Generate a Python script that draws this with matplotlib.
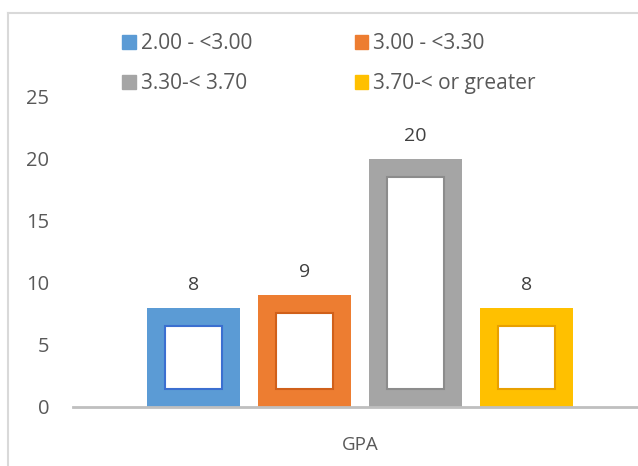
#!/usr/bin/env python3

import matplotlib
matplotlib.use("Agg")
import matplotlib.pyplot as plt
import matplotlib.patches as patches
from matplotlib.lines import Line2D

labels = ["2.00 - <3.00", "3.00 - <3.30", "3.30-< 3.70", "3.70-< or greater"]
values = [8, 9, 20, 8]
colors = ["#5B9BD5", "#ED7D31", "#A5A5A5", "#FFC000"]
edges = ["#3b6fd0", "#d0601a", "#8c8c8c", "#e8a000"]
category = "GPA"
yticks = [0, 5, 10, 15, 20, 25]


def main():
    plt.rcParams["font.family"] = ["Open Sans", "DejaVu Sans"]
    txt = "#595959"
    W, H, dpi = 638, 466, 100
    fig = plt.figure(figsize=(W / dpi, H / dpi), dpi=dpi)
    left, right, bottom, top = 73, 647, 407, 97
    ax = fig.add_axes([left / W, 1 - bottom / H, (right - left) / W, (bottom - top) / H])
    ax_w = right - left
    ax_h = bottom - top

    ax.set_xlim(-0.5, 0.5)
    ax.set_ylim(0, 25)
    step = 111 / ax_w
    width = 93 / ax_w
    n = len(values)
    xs = [(i - (n - 1) / 2) * step for i in range(n)]

    inset_px = 18
    dx = inset_px / ax_w
    dy = inset_px / ax_h * 25

    for x, v, c, e in zip(xs, values, colors, edges):
        ax.bar(x, v, width=width, color=c, zorder=2)
        ax.bar(x, v - 2 * dy, bottom=dy, width=width - 2 * dx, color="white",
               edgecolor=e, linewidth=1.5, zorder=3)
        ax.text(x, v + 1.15, str(v), ha="center", va="bottom", fontsize=14, color="#404040")

    ax.set_yticks(yticks)
    ax.set_yticklabels([str(t) for t in yticks], fontsize=14.5, color=txt)
    ax.tick_params(axis="y", length=0, pad=17)
    ax.set_xticks([0])
    ax.set_xticklabels([category], fontsize=13.5, color=txt)
    ax.tick_params(axis="x", length=0, pad=21)
    for s in ["top", "right", "left"]:
        ax.spines[s].set_visible(False)
    ax.spines["bottom"].set_color("#bfbfbf")
    ax.spines["bottom"].set_linewidth(2)
    ax.spines["bottom"].set_zorder(4)

    # legend fills row by row in the reference: reorder for column-major fill
    order = [0, 2, 1, 3]
    handles = [patches.Patch(color=colors[i]) for i in order]
    ax.legend(handles, [labels[i] for i in order], ncol=2, frameon=False, fontsize=15,
              labelcolor=txt, handlelength=0.65, handleheight=0.65, handletextpad=0.25,
              columnspacing=4.9, labelspacing=0.9,
              loc="upper left", bbox_to_anchor=(114 / W, 1 - 25 / H),
              bbox_transform=fig.transFigure, borderaxespad=0)

    # outer chart frame (cropped on right and bottom)
    fig.add_artist(Line2D([8 / W, 8 / W], [0, 1 - 13 / H], transform=fig.transFigure,
                          color="#d9d9d9", lw=1.5))
    fig.add_artist(Line2D([8 / W, 1], [1 - 13 / H, 1 - 13 / H], transform=fig.transFigure,
                          color="#d9d9d9", lw=1.5))

    fig.savefig("out.png", dpi=dpi)


if __name__ == "__main__":
    main()
